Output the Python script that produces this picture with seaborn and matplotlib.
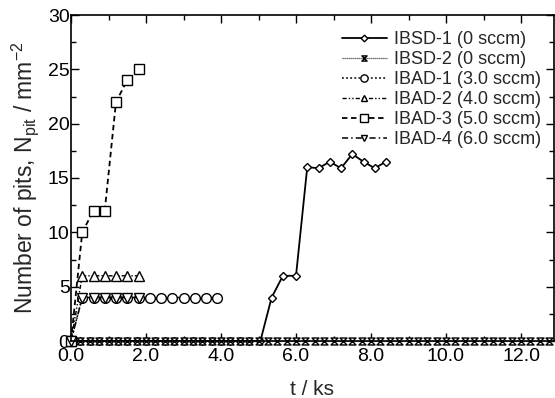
import matplotlib
matplotlib.use("Agg")
import matplotlib.pyplot as plt
from matplotlib.path import Path
from matplotlib.ticker import MultipleLocator, FormatStrFormatter
import seaborn as sns
import pandas as pd

# ---- data ----
ibsd1_t = [0.0, 0.25, 0.5, 0.75, 1.0, 1.25, 1.5, 1.75, 2.0, 2.25, 2.5, 2.75, 3.0, 3.25,
           3.5, 3.75, 4.0, 4.25, 4.5, 4.75, 5.05, 5.35, 5.65, 6.0, 6.3, 6.6, 6.9, 7.2,
           7.5, 7.8, 8.1, 8.4]
ibsd1_n = [0, 0, 0, 0, 0, 0, 0, 0, 0, 0, 0, 0, 0, 0, 0, 0, 0, 0, 0, 0, 0,
           4, 6, 6, 16, 15.9, 16.5, 15.9, 17.2, 16.5, 15.9, 16.5]

ibsd2_t = [0.0, 0.25, 0.5, 0.75, 1.0, 1.25, 1.5, 1.75, 2.0, 2.25, 2.5, 2.75, 3.0, 3.25,
           3.5, 3.75, 4.0, 4.25, 4.5, 4.75, 5.0, 5.25, 5.5, 5.75, 6.0, 6.25, 6.5, 6.75,
           7.0, 7.25, 7.5, 7.75, 8.0, 8.25, 8.5, 8.75, 9.0, 9.25, 9.5, 9.75, 10.0, 10.25,
           10.5, 10.75, 11.0, 11.25, 11.5, 11.75, 12.0, 12.25, 12.5, 12.75]
ibsd2_n = [0, 0, 0, 0, 0, 0, 0, 0, 0, 0, 0, 0, 0, 0, 0, 0, 0, 0, 0, 0, 0, 0, 0, 0, 0, 0,
           0, 0, 0, 0, 0, 0, 0, 0, 0, 0, 0, 0, 0, 0, 0, 0, 0, 0, 0, 0, 0, 0, 0, 0, 0, 0]

ibad1_t = [0.0, 0.3, 0.6, 0.9, 1.2, 1.5, 1.8, 2.1, 2.4, 2.7, 3.0, 3.3, 3.6, 3.9]
ibad1_n = [0, 4, 4, 4, 4, 4, 4, 4, 4, 4, 4, 4, 4, 4]

ibad2_t = [0.0, 0.3, 0.6, 0.9, 1.2, 1.5, 1.8]
ibad2_n = [0, 6, 6, 6, 6, 6, 6]

ibad3_t = [0.0, 0.3, 0.6, 0.9, 1.2, 1.5, 1.8]
ibad3_n = [0, 10, 12, 12, 22, 24, 25]

ibad4_t = [0.0, 0.3, 0.6, 0.9, 1.2, 1.5, 1.8]
ibad4_n = [0, 4, 4, 4, 4, 4, 4]

labels = ["IBSD-1 (0 sccm)", "IBSD-2 (0 sccm)", "IBAD-1 (3.0 sccm)",
          "IBAD-2 (4.0 sccm)", "IBAD-3 (5.0 sccm)", "IBAD-4 (6.0 sccm)"]
x_ticks = [0.0, 2.0, 4.0, 6.0, 8.0, 10.0, 12.0]
y_ticks = [0, 5, 10, 15, 20, 25, 30]

# ---- style ----
sns.set_style("ticks")
plt.rcParams["font.family"] = ["Liberation Sans", "DejaVu Sans"]
plt.rcParams["mathtext.fontset"] = "custom"
plt.rcParams["mathtext.rm"] = "Liberation Sans"
plt.rcParams["mathtext.it"] = "Liberation Sans"

hourglass = Path([(-1, 1), (1, 1), (-1, -1), (1, -1), (-1, 1)],
                 [Path.MOVETO, Path.LINETO, Path.LINETO, Path.LINETO, Path.CLOSEPOLY])

fig = plt.figure(figsize=(5.55, 3.98), dpi=100)
ax = fig.add_axes([71 / 555, 1 - 341 / 398, (554 - 71) / 555, (341 - 15) / 398])

series = [
    (ibsd1_t, ibsd1_n, dict(linestyle="-", lw=1.3, marker="D", ms=4.5, color="black")),
    (ibsd2_t, ibsd2_n, dict(linestyle=(0, (1, 0.6)), lw=0.9, marker=hourglass, ms=5, color="#444444")),
    (ibad1_t, ibad1_n, dict(linestyle=(0, (1.2, 1.5)), lw=1.1, marker="o", ms=7, color="black")),
    (ibad2_t, ibad2_n, dict(linestyle=(0, (3, 1.5, 1, 1.5, 1, 1.5)), lw=1.0, marker="^", ms=6.5, color="black")),
    (ibad3_t, ibad3_n, dict(linestyle=(0, (3, 2)), lw=1.3, marker="s", ms=7, color="black")),
    (ibad4_t, ibad4_n, dict(linestyle=(0, (4, 2, 1, 2)), lw=1.1, marker="v", ms=6.5, color="black")),
]

for (t, n, kw), lab in zip(series, labels):
    df = pd.DataFrame({"t": t, "n": n})
    sns.lineplot(data=df, x="t", y="n", ax=ax, label=lab,
                 markerfacecolor="white", markeredgecolor="black",
                 markeredgewidth=1.0, clip_on=False, **kw)

ax.set_xlim(0, 12.88)
ax.set_ylim(0, 30)
ax.set_xticks(x_ticks)
ax.set_yticks(y_ticks)
ax.xaxis.set_major_formatter(FormatStrFormatter("%.1f"))
ax.xaxis.set_minor_locator(MultipleLocator(1.0))
ax.yaxis.set_minor_locator(MultipleLocator(2.5))
ax.tick_params(which="both", direction="in", top=True, right=True, labelsize=14,
               width=1.0, colors="black")
ax.tick_params(axis="y", which="both", pad=1)
ax.tick_params(axis="x", which="both", pad=5)
ax.tick_params(which="major", length=6)
ax.tick_params(which="minor", length=3.5)
for s in ax.spines.values():
    s.set_linewidth(1.2)
    s.set_color("black")

ax.set_xlabel("t / ks", fontsize=15, labelpad=11)
ax.set_ylabel(r"Number of pits, N$_{\rm pit}$ / mm$^{-2}$", fontsize=16.5, labelpad=5)

leg = ax.legend(loc="upper right", bbox_to_anchor=(541 / 555, 1 - 31 / 398),
                bbox_transform=fig.transFigure, frameon=False, fontsize=13,
                handlelength=2.5, handletextpad=0.4, labelspacing=0.17,
                borderaxespad=0, borderpad=0, markerscale=0.75)

fig.savefig("out.png", dpi=100)
